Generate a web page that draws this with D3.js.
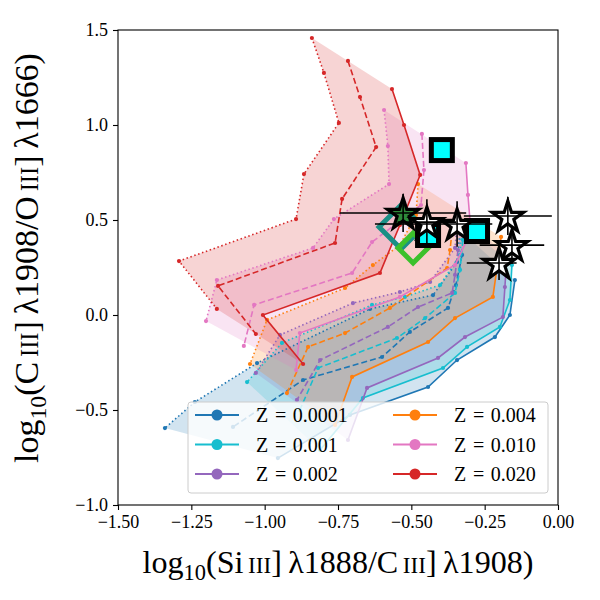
<!DOCTYPE html>
<html><head><meta charset="utf-8">
<script src="https://cdn.jsdelivr.net/npm/d3@7"></script>
<style>body{margin:0;background:#fff}</style>
</head><body><svg id="c" width="600" height="600"></svg>
<script>
// ---------- DATA ----------
const metallicities = ["0.0001","0.001","0.002","0.004","0.010","0.020"];
const seriesColors = ["#1f77b4","#17becf","#9467bd","#ff7f0e","#e377c2","#d62728"];

const z0001Solid  = [[-0.147,0.184],[-0.164,0.0],[-0.215,-0.116],[-0.344,-0.237],[-0.443,-0.379],[-0.709,-0.526],[-0.955,-0.753]];
const z0001Dashed = [[-0.327,0.316],[-0.348,0.158],[-0.375,0.037],[-0.505,-0.089],[-0.600,-0.221],[-0.869,-0.342],[-1.108,-0.589]];
const z0001Dotted = [[-0.334,0.447],[-0.344,0.279],[-0.426,0.105],[-0.641,0.032],[-1.026,-0.253],[-1.238,-0.458],[-1.340,-0.595]];

const z001Solid  = [[-0.157,0.263],[-0.164,0.079],[-0.198,-0.063],[-0.310,-0.168],[-0.392,-0.279],[-0.665,-0.437],[-0.811,-0.711]];
const z001Dashed = [[-0.324,0.395],[-0.334,0.237],[-0.351,0.116],[-0.453,-0.016],[-0.549,-0.121],[-0.818,-0.279],[-0.880,-0.500]];
const z001Dotted = [[-0.327,0.489],[-0.334,0.316],[-0.402,0.158],[-0.522,0.095],[-0.634,0.053],[-0.941,-0.147],[-1.060,-0.353]];

const z002Solid  = [[-0.174,0.316],[-0.181,0.147],[-0.188,-0.011],[-0.317,-0.116],[-0.409,-0.226],[-0.651,-0.384],[-0.716,-0.658]];
const z002Dashed = [[-0.341,0.342],[-0.351,0.211],[-0.361,0.116],[-0.477,0.042],[-0.580,-0.063],[-0.811,-0.237],[-0.890,-0.447]];
const z002Dotted = [[-0.341,0.526],[-0.351,0.353],[-0.436,0.174],[-0.539,0.121],[-0.699,0.063],[-0.948,-0.105],[-1.030,-0.305]];

const z004Solid  = [[-0.194,0.411],[-0.208,0.247],[-0.222,0.095],[-0.351,-0.016],[-0.443,-0.142],[-0.702,-0.326],[-0.760,-0.579]];
const z004Dashed = [[-0.358,0.489],[-0.368,0.342],[-0.378,0.247],[-0.573,0.037],[-0.726,-0.095],[-0.852,-0.168],[-0.924,-0.411]];
const z004Dotted = [[-0.477,0.689],[-0.484,0.526],[-0.539,0.368],[-0.631,0.263],[-0.726,0.142],[-0.992,-0.026],[-1.050,-0.258]];

const z010Solid  = [[-0.314,0.800],[-0.307,0.632],[-0.297,0.437],[-0.351,0.263],[-0.539,0.095],[-0.880,-0.095],[-0.893,-0.290]];
const z010Dashed = [[-0.464,0.953],[-0.457,0.763],[-0.467,0.579],[-0.634,0.384],[-0.702,0.221],[-1.036,0.053],[-1.071,-0.163]];
const z010Dotted = [[-0.593,1.079],[-0.580,0.889],[-0.576,0.689],[-0.764,0.505],[-0.835,0.353],[-1.163,0.184],[-1.200,-0.032]];

const z020Solid  = [[-0.566,1.189],[-0.525,1.000],[-0.470,0.737],[-0.539,0.474],[-0.607,0.221],[-1.006,0.000],[-0.869,-0.258]];
const z020Dashed = [[-0.716,1.337],[-0.675,1.147],[-0.620,0.884],[-0.736,0.611],[-0.760,0.379],[-1.159,0.153],[-1.030,-0.100]];
const z020Dotted = [[-0.839,1.458],[-0.798,1.274],[-0.747,1.011],[-0.866,0.742],[-0.893,0.505],[-1.292,0.284],[-1.163,0.032]];

// observed objects
const squareX = [-0.396,-0.443,-0.276];
const squareY = [0.868,0.421,0.442];
const starX   = [-0.528,-0.447,-0.344,-0.171,-0.157,-0.201];
const starY   = [0.537,0.489,0.479,0.521,0.368,0.274];
const starXLo = [0.215,0.10,0.28,0.15,0.11,0.11];
const starXHi = [0.215,0.10,0.12,0.15,0.11,0.06];
const starYErr= [0.10,0.12,0.12,0.10,0.10,0.09];
const diamondX = [-0.535,-0.494];
const diamondY = [0.463,0.353];
const diamondColors = ["#1a8f86","#3cc12c"];

const xTicks = [-1.5,-1.25,-1.0,-0.75,-0.5,-0.25,0.0];
const yTicks = [-1.0,-0.5,0.0,0.5,1.0,1.5];

// ---------- CHART ----------
const svg = d3.select("#c");
const L=118,R=558,T=30,B=505;
const x = d3.scaleLinear().domain([-1.5,0]).range([L,R]);
const y = d3.scaleLinear().domain([-1,1.5]).range([B,T]);
const FONT = "'Liberation Serif','DejaVu Serif',serif";

const groups = [
  {solid:z0001Solid, dashed:z0001Dashed, dotted:z0001Dotted},
  {solid:z001Solid,  dashed:z001Dashed,  dotted:z001Dotted},
  {solid:z002Solid,  dashed:z002Dashed,  dotted:z002Dotted},
  {solid:z004Solid,  dashed:z004Dashed,  dotted:z004Dotted},
  {solid:z010Solid,  dashed:z010Dashed,  dotted:z010Dotted},
  {solid:z020Solid,  dashed:z020Dashed,  dotted:z020Dotted},
];

svg.append("defs").append("clipPath").attr("id","clip")
  .append("rect").attr("x",L).attr("y",T).attr("width",R-L).attr("height",B-T);
const plot = svg.append("g").attr("clip-path","url(#clip)");
const line = d3.line().x(d=>x(d[0])).y(d=>y(d[1]));

// fills
groups.forEach((g,i)=>{
  const poly = g.dotted.concat(g.solid.slice().reverse());
  plot.append("path").attr("d", line(poly)+"Z")
    .attr("fill", seriesColors[i]).attr("fill-opacity",0.2).attr("stroke","none");
});
// lines
const styles = {solid:null, dashed:"6,3", dotted:"1.5,2.6"};
groups.forEach((g,i)=>{
  ["dotted","dashed","solid"].forEach(k=>{
    plot.append("path").attr("d", line(g[k])).attr("fill","none")
      .attr("stroke", seriesColors[i]).attr("stroke-width",1.6)
      .attr("stroke-dasharray", styles[k]);
    plot.selectAll(null).data(g[k]).enter().append("circle")
      .attr("cx",d=>x(d[0])).attr("cy",d=>y(d[1])).attr("r",2.1)
      .attr("fill", seriesColors[i]);
  });
});

// diamonds
const diamondHalf = [22,15];
diamondX.forEach((dx,i)=>{
  const cx=x(dx), cy=y(diamondY[i]), h=diamondHalf[i];
  plot.append("path").attr("d",`M${cx-h},${cy}L${cx},${cy-h}L${cx+h},${cy}L${cx},${cy+h}Z`)
    .attr("fill","none").attr("stroke",diamondColors[i]).attr("stroke-width",5);
});
// squares
squareX.forEach((sx,i)=>{
  plot.append("rect").attr("x",x(sx)-10.5).attr("y",y(squareY[i])-10.5)
    .attr("width",21).attr("height",21).attr("fill","#00ffff")
    .attr("stroke","#000").attr("stroke-width",5);
});
// stars
function starPath(cx,cy,Ro){
  const ri=Ro*0.382, pts=[];
  for(let k=0;k<10;k++){const a=-Math.PI/2+k*Math.PI/5, r=k%2?ri:Ro; pts.push([cx+r*Math.cos(a),cy+r*Math.sin(a)]);}
  return "M"+pts.map(p=>p.join(",")).join("L")+"Z";
}
starX.forEach((sx,i)=>{
  plot.append("path").attr("d",starPath(x(sx),y(starY[i])+1.5,16.5))
    .attr("fill", i===0?"#2e8a3a":"#fff").attr("stroke","#000").attr("stroke-width",3.2)
    .attr("stroke-linejoin","miter");
});
starX.forEach((sx,i)=>{
  plot.append("line").attr("x1",x(sx-starXLo[i])).attr("x2",x(sx+starXHi[i]))
    .attr("y1",y(starY[i])).attr("y2",y(starY[i])).attr("stroke","#000").attr("stroke-width",1.6);
  plot.append("line").attr("x1",x(sx)).attr("x2",x(sx))
    .attr("y1",y(starY[i]-starYErr[i])).attr("y2",y(starY[i]+starYErr[i])).attr("stroke","#000").attr("stroke-width",1.6);
});

// frame
svg.append("rect").attr("x",L).attr("y",T).attr("width",R-L).attr("height",B-T)
  .attr("fill","none").attr("stroke","#000").attr("stroke-width",1.1);

// axes
const fmtX = d=>(d<0?"\u2212":"")+Math.abs(d).toFixed(2);
const fmtY = d=>(d<0?"\u2212":"")+Math.abs(d).toFixed(1);
const xa = svg.append("g").attr("transform",`translate(0,${B})`)
  .call(d3.axisBottom(x).tickValues(xTicks).tickFormat(fmtX).tickSize(5).tickPadding(5));
const ya = svg.append("g").attr("transform",`translate(${L},0)`)
  .call(d3.axisLeft(y).tickValues(yTicks).tickFormat(fmtY).tickSize(5).tickPadding(5));
[xa,ya].forEach(a=>{
  a.select(".domain").remove();
  a.selectAll("line").attr("stroke","#000").attr("stroke-width",1.1);
  a.selectAll("text").attr("font-family",FONT).attr("font-size",18).attr("fill","#000");
});

// axis labels with sub/small caps
function richLabel(sel, parts, size){
  parts.forEach(p=>{
    const t = sel.append("tspan").text(p.t).attr("font-size", size*(p.s||1));
    if(p.dy) t.attr("dy", p.dy);
  });
}
function fitLabel(sel, parts, target){
  let size = 27;
  richLabel(sel, parts, size);
  const w = sel.node().getComputedTextLength();
  size = size*target/w;
  sel.selectAll("tspan").remove();
  richLabel(sel, parts.map(p=>Object.assign({},p,{dy:p.dy?p.dy*size/27:undefined})), size);
}
const xl = svg.append("text").attr("x",338).attr("y",573).attr("text-anchor","middle")
  .attr("font-family",FONT).attr("fill","#000");
fitLabel(xl,[{t:"log"},{t:"10",s:0.7,dy:6},{t:"(Si",dy:-6},{t:"\u2009III",s:0.72},{t:"]\u2009λ1888/C"},{t:"\u2009III",s:0.72},{t:"]\u2009λ1908)"}],391);
const yl = svg.append("text").attr("transform",`translate(38,258) rotate(-90)`).attr("text-anchor","middle")
  .attr("font-family",FONT).attr("fill","#000");
fitLabel(yl,[{t:"log"},{t:"10",s:0.7,dy:6},{t:"(C",dy:-6},{t:"\u2009III",s:0.72},{t:"]\u2009λ1908/O"},{t:"\u2009III",s:0.72},{t:"]\u2009λ1666)"}],410);

// legend
const lg = svg.append("g");
lg.append("rect").attr("x",188).attr("y",402).attr("width",360).attr("height",91).attr("rx",3)
  .attr("fill","#fff").attr("fill-opacity",0.8).attr("stroke","#cccccc").attr("stroke-width",1);
metallicities.forEach((m,i)=>{
  const col = Math.floor(i/3), row = i%3;
  const x0 = col===0?195:393, yy = 415+row*29.5;
  lg.append("line").attr("x1",x0).attr("x2",x0+44).attr("y1",yy).attr("y2",yy)
    .attr("stroke",seriesColors[i]).attr("stroke-width",2);
  lg.append("circle").attr("cx",x0+22).attr("cy",yy).attr("r",5.5).attr("fill",seriesColors[i]);
  lg.append("text").attr("x",x0+61).attr("y",yy+7).attr("font-family",FONT).attr("font-size",20)
    .attr("fill","#000").attr("xml:space","preserve").text("Z\u2004=\u20040."+m.slice(2));
});
</script></body></html>
